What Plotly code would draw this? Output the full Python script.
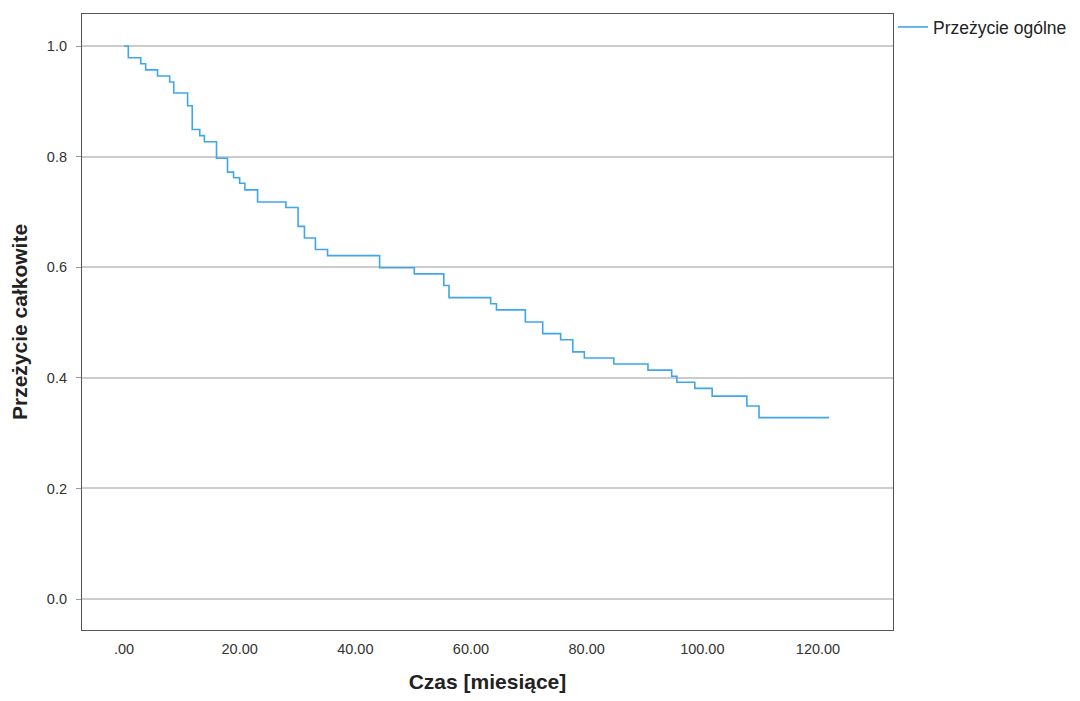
import plotly.graph_objects as go

times = [0, 0.75, 2.9, 3.75, 5.8, 7.9, 8.6, 11.0, 11.8, 13.1, 13.9, 16.0, 17.9, 18.95, 20.0, 20.9,
         23.1, 28.0, 30.1, 31.2, 33.1, 35.2, 44.2, 50.2, 55.3, 56.2, 63.4, 64.4, 69.4, 72.4, 75.5,
         77.6, 79.6, 84.7, 90.6, 94.7, 95.6, 98.7, 101.7, 107.7, 109.8, 121.9]
surv = [1.0, 0.979, 0.968, 0.957, 0.946, 0.935, 0.915, 0.892, 0.849, 0.838, 0.827, 0.797, 0.772,
        0.762, 0.752, 0.740, 0.718, 0.708, 0.674, 0.653, 0.632, 0.621, 0.599, 0.588, 0.567, 0.545,
        0.534, 0.523, 0.501, 0.480, 0.469, 0.447, 0.436, 0.425, 0.414, 0.403, 0.392, 0.381, 0.367,
        0.349, 0.328, 0.328]

x_ticks = [0, 20, 40, 60, 80, 100, 120]
x_ticklabels = [".00", "20.00", "40.00", "60.00", "80.00", "100.00", "120.00"]
y_ticks = [0.0, 0.2, 0.4, 0.6, 0.8, 1.0]
y_ticklabels = ["0.0", "0.2", "0.4", "0.6", "0.8", "1.0"]

fig = go.Figure()
fig.add_trace(go.Scatter(
    x=times, y=surv, mode="lines", line_shape="hv",
    line=dict(color="#3fa6ec", width=1.6),
    name="Przeżycie ogólne", showlegend=True,
))

# page body has an 8px margin, so the figure is offset by 8px
fig.update_layout(
    width=1064, height=685,
    margin=dict(l=74, r=179, t=6, b=63, autoexpand=False),
    paper_bgcolor="white", plot_bgcolor="white",
    font=dict(family="Liberation Sans, Arial, sans-serif", color="#333333", size=14.5),
    legend=dict(x=1.0, xanchor="left", y=1.008, yanchor="top",
                font=dict(size=17.5, color="#222222"), bgcolor="rgba(0,0,0,0)",
                itemwidth=30, tracegroupgap=0),
    xaxis=dict(
        range=[-7.26, 132.97], tickvals=x_ticks, ticktext=x_ticklabels,
        showgrid=False, zeroline=False, showline=True, mirror=True,
        linecolor="#555555", linewidth=1.2, ticks="", ticklabelstandoff=5,
        tickfont=dict(size=14.5, color="#333333"), automargin=False,
        title=dict(text="<b>Czas [miesiące]</b>", font=dict(size=21, color="#222222"), standoff=18),
    ),
    yaxis=dict(
        range=[-0.056, 1.058], tickvals=y_ticks, ticktext=y_ticklabels,
        showgrid=True, gridcolor="#cccccc", gridwidth=1.5, zeroline=False,
        showline=True, mirror=True, linecolor="#555555", linewidth=1.2,
        ticks="outside", ticklen=5, tickcolor="#999999", ticklabelstandoff=6,
        tickfont=dict(size=14.5, color="#333333"), automargin=False,
        title=dict(text="<b>Przeżycie całkowite</b>", font=dict(size=21, color="#222222"), standoff=14),
    ),
)

fig.write_html("out.html")
